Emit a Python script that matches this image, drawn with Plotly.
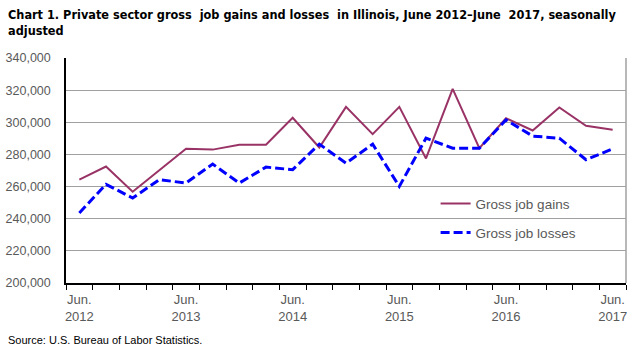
import plotly.graph_objects as go

quarters = [
    "Jun. 2012", "Sep. 2012", "Dec. 2012", "Mar. 2013",
    "Jun. 2013", "Sep. 2013", "Dec. 2013", "Mar. 2014",
    "Jun. 2014", "Sep. 2014", "Dec. 2014", "Mar. 2015",
    "Jun. 2015", "Sep. 2015", "Dec. 2015", "Mar. 2016",
    "Jun. 2016", "Sep. 2016", "Dec. 2016", "Mar. 2017",
    "Jun. 2017",
]
gross_job_gains = [
    264300, 272500, 256800, 270300, 283500, 283000, 286000, 286000,
    302800, 284300, 309600, 292600, 309600, 277500, 320800, 283900,
    302500, 294900, 309200, 297800, 295300,
]
gross_job_losses = [
    243600, 261400, 252900, 264300, 262200, 274000, 262200, 272100,
    270500, 286400, 274600, 286400, 260100, 290100, 283900, 283900,
    301500, 291400, 290100, 276700, 283500,
]
labelled = ["Jun. 2012", "Jun. 2013", "Jun. 2014", "Jun. 2015", "Jun. 2016", "Jun. 2017"]

x_idx = list(range(len(quarters)))
tickvals = [quarters.index(q) for q in labelled]
ticktext = [q.replace(" ", "<br>") for q in labelled]

BASE = "Liberation Sans, Arial, sans-serif"
GRAY_TXT = "#595959"
TITLE_FONT = "DejaVu Sans Condensed, Liberation Sans Narrow, Liberation Sans, sans-serif"

fig = go.Figure()
fig.add_trace(go.Scatter(
    x=x_idx, y=gross_job_gains, mode="lines", name="Gross job gains",
    line=dict(color="#993366", width=2), legend="legend",
))
fig.add_trace(go.Scatter(
    x=x_idx, y=gross_job_losses, mode="lines", name="Gross job losses",
    line=dict(color="#0000FF", width=3, dash="9px,4px"), legend="legend2",
))

fig.update_layout(
    width=642, height=350,
    margin=dict(l=66, r=16, t=58, b=67),
    paper_bgcolor="white", plot_bgcolor="white",
    font=dict(family=BASE, size=13, color=GRAY_TXT),
    legend=dict(x=0.66, y=0.352, xanchor="left", yanchor="middle", bgcolor="rgba(0,0,0,0)",
                font=dict(size=13.5, color=GRAY_TXT), itemwidth=30),
    legend2=dict(x=0.66, y=0.223, xanchor="left", yanchor="middle", bgcolor="rgba(0,0,0,0)",
                 font=dict(size=13.5, color=GRAY_TXT), itemwidth=30),
    showlegend=True,
)
fig.update_yaxes(
    range=[200000, 340000], dtick=20000, tickformat=",",
    showgrid=True, gridcolor="#A0A0A0", gridwidth=1,
    showline=True, linecolor="black", linewidth=1.5,
    ticks="", ticklabelstandoff=11, automargin=False,
    tickfont=dict(size=12.5, color=GRAY_TXT), zeroline=False,
)
fig.update_xaxes(
    range=[-0.5, len(quarters) - 0.5],
    tickmode="array", tickvals=tickvals, ticktext=ticktext,
    ticks="", showgrid=False, zeroline=False, automargin=False,
    showline=True, linecolor="black", linewidth=1.5,
    tickfont=dict(size=13, color=GRAY_TXT), ticklabelstandoff=4,
    minor=dict(ticks="outside", ticklen=5, tickcolor="black", tickwidth=1,
               tick0=-0.5, dtick=1, showgrid=False),
)
fig.add_shape(type="line", xref="paper", yref="paper", x0=1, x1=1, y0=0, y1=1,
              line=dict(color="#A0A0A0", width=1.5), layer="below")
fig.add_annotation(
    text="<b>Chart 1. Private sector gross  job gains and losses  in Illinois, June 2012\u2013June  2017, seasonally</b>",
    xref="paper", yref="paper", x=-0.108, y=1.0 + (58 - 14) / 225.0,
    xanchor="left", yanchor="middle", showarrow=False,
    font=dict(family=TITLE_FONT, size=12.6, color="black"))
fig.add_annotation(
    text="<b>adjusted</b>",
    xref="paper", yref="paper", x=-0.108, y=1.0 + (58 - 31) / 225.0,
    xanchor="left", yanchor="middle", showarrow=False,
    font=dict(family=TITLE_FONT, size=12.6, color="black"))
fig.add_annotation(text="Source: U.S. Bureau of Labor Statistics.", xref="paper", yref="paper",
                   x=-0.108, y=-(340 - 283) / 225.0, xanchor="left", yanchor="middle", showarrow=False,
                   font=dict(size=11, color="black"))

fig.write_html("out.html")
